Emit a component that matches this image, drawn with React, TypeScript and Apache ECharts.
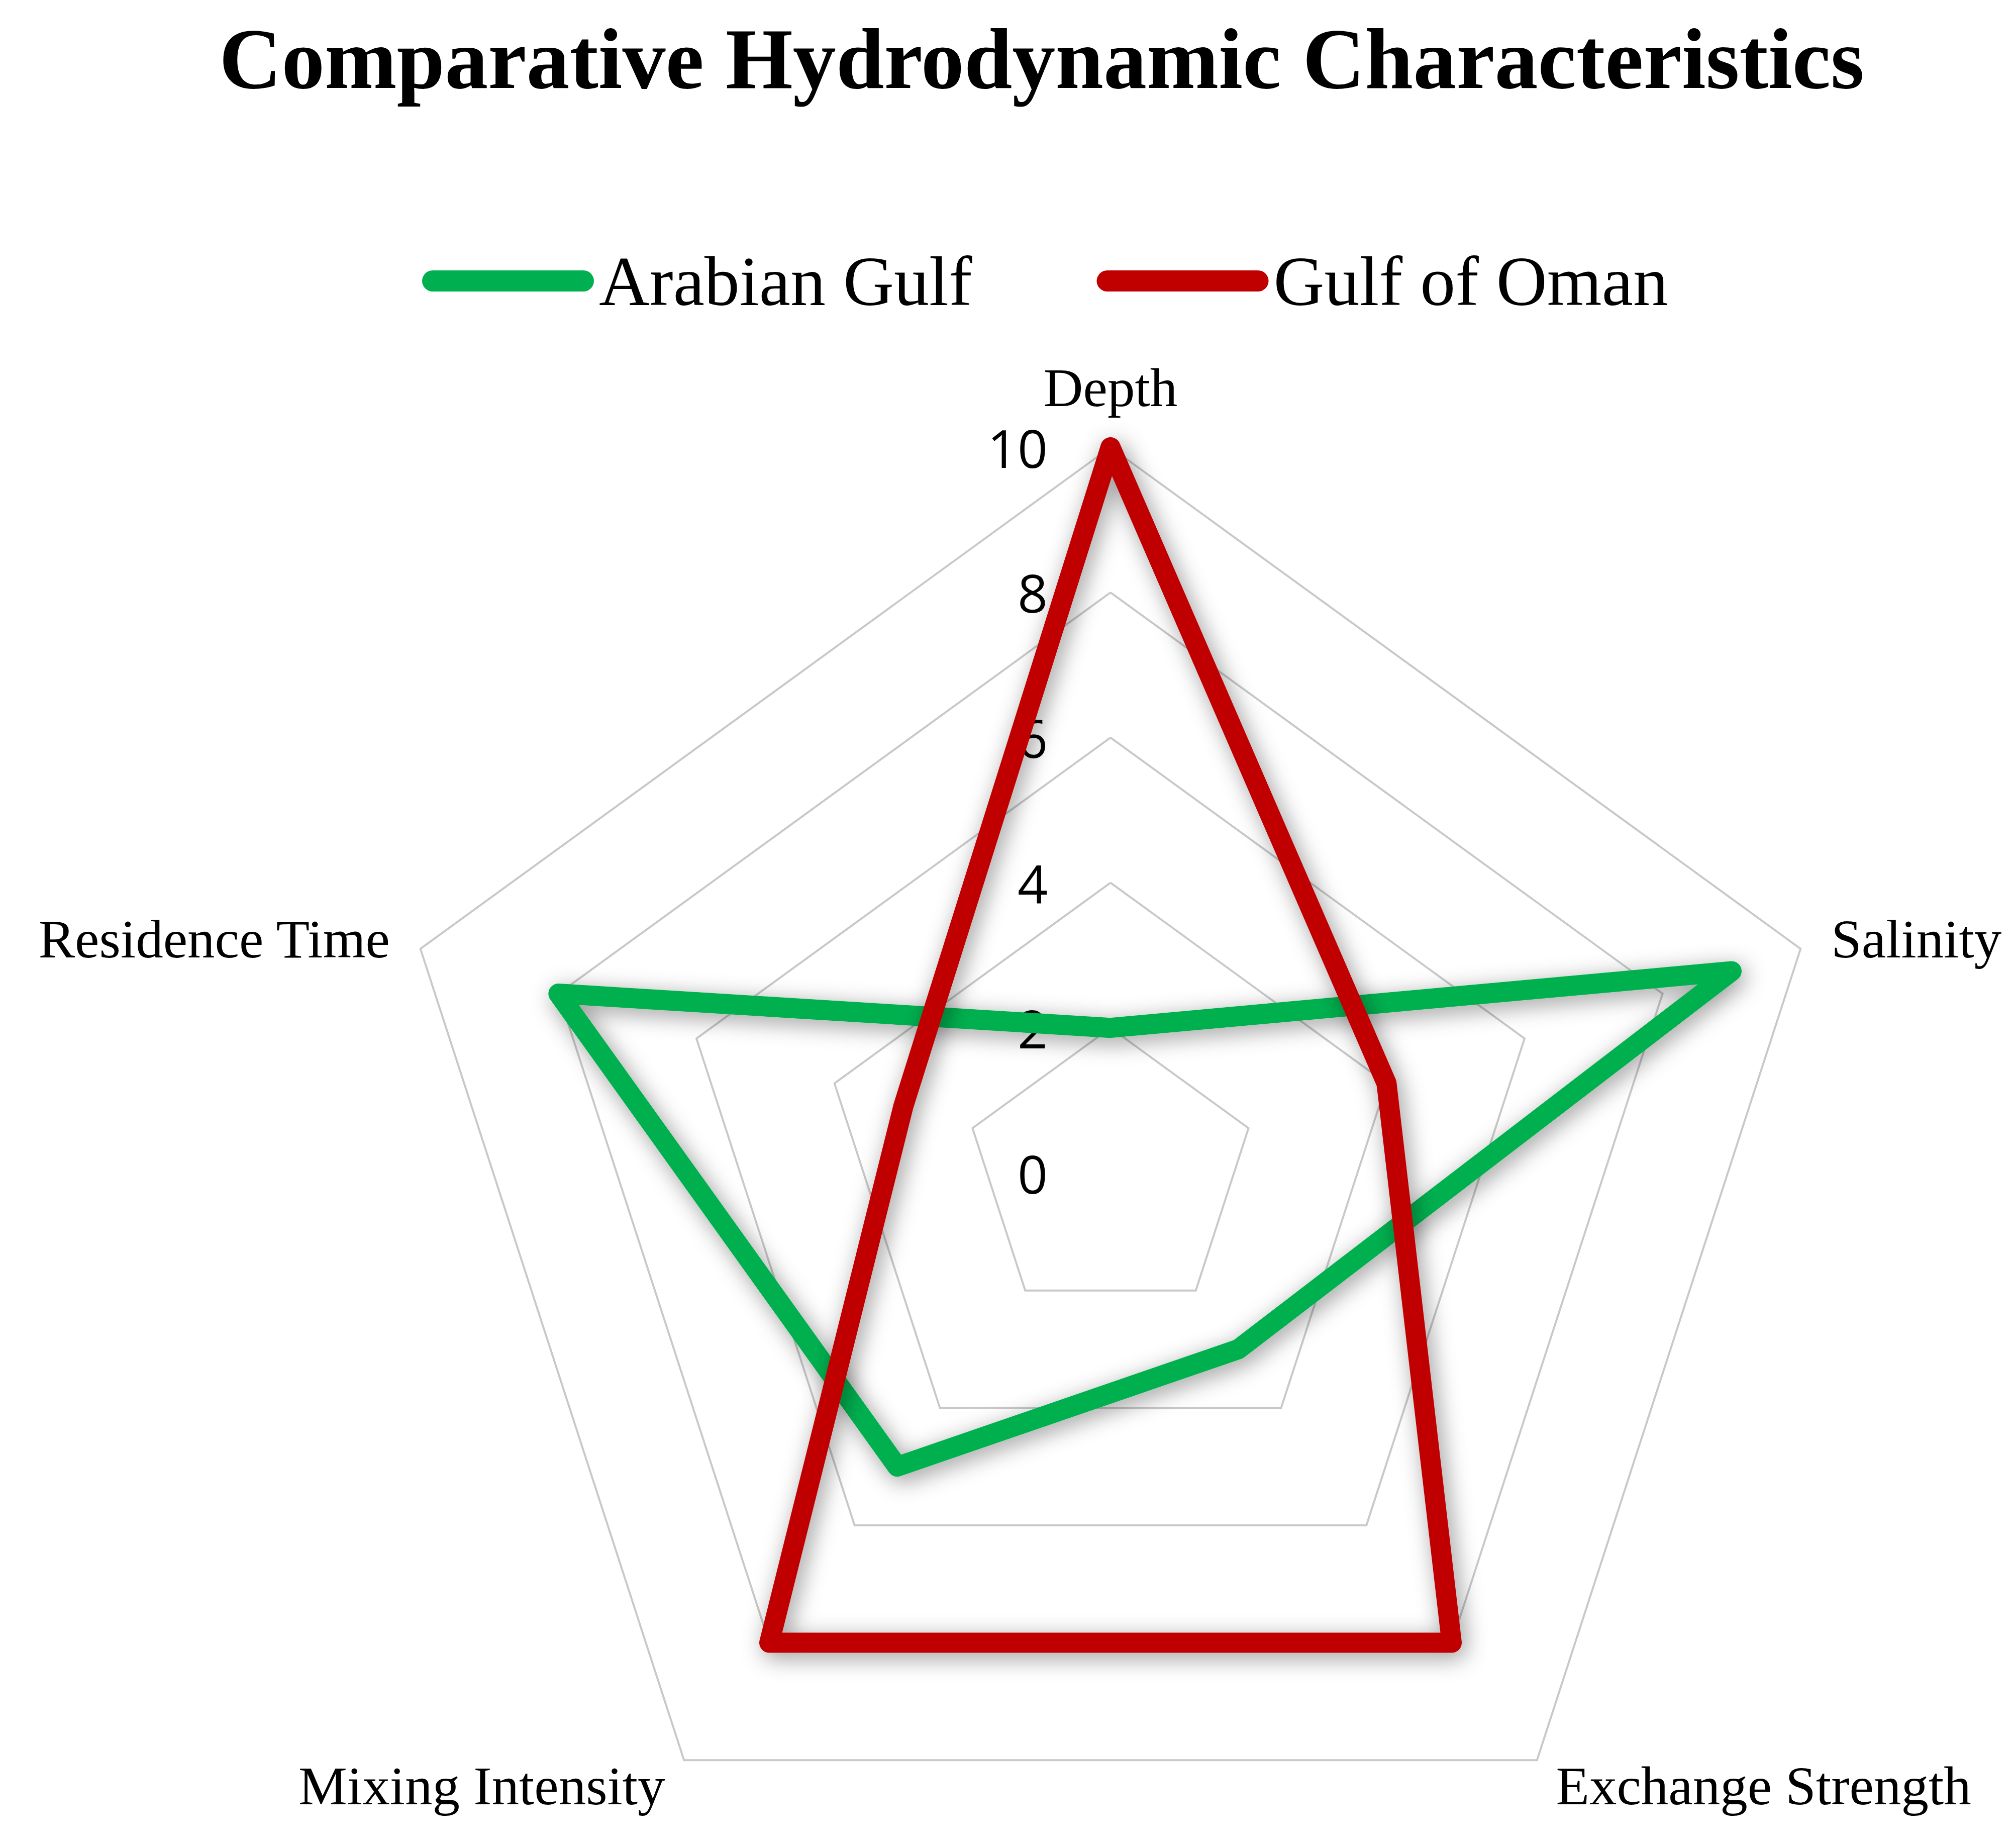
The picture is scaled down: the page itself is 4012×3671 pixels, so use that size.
import React, { useEffect, useRef } from "react";
import * as echarts from "echarts";

const titleText = "Comparative Hydrodynamic Characteristics";
const indicators = ["Depth", "Residence Time", "Mixing Intensity", "Exchange Strength", "Salinity"];
const maxValue = 10;
const seriesNames = ["Arabian Gulf", "Gulf of Oman"];
const arabianGulf = [2, 8, 5, 3, 9];
const gulfOfOman = [10, 3, 8, 8, 4];
const seriesColors = ["#00B050", "#C00000"];

export default function App() {
  const ref = useRef<HTMLDivElement>(null);
  useEffect(() => {
    document.body.style.margin = "0";
    const chart = echarts.init(ref.current!, null, { renderer: "svg" });
    const values = [arabianGulf, gulfOfOman];
    chart.setOption({
      animation: false,
      backgroundColor: "#ffffff",
      title: {
        text: titleText,
        left: 2068,
        textAlign: "center",
        top: 26,
        textStyle: {
          fontFamily: "Liberation Serif",
          fontWeight: "bold",
          fontSize: 172,
          color: "#000000",
        },
      },
      legend: {
        data: seriesNames,
        left: 835,
        top: 484,
        icon: "path://M21 0H321A21 21 0 0 1 321 42H21A21 21 0 0 1 21 0Z",
        itemWidth: 342,
        itemHeight: 42,
        itemGap: 248,
        itemStyle: { borderWidth: 0 },
        textStyle: {
          fontFamily: "Liberation Serif",
          fontSize: 140,
          lineHeight: 140,
          color: "#000000",
          padding: [0, 0, 0, 5],
        },
      },
      radar: {
        center: [2210, 2334],
        radius: 1444,
        startAngle: 90,
        splitNumber: 5,
        shape: "polygon",
        nameGap: 64,
        indicator: indicators.map((name, i) =>
          i === 0
            ? { name, min: 0, max: maxValue, axisLabel: { show: true } }
            : { name, min: 0, max: maxValue }
        ),
        axisName: {
          fontFamily: "Liberation Serif",
          fontSize: 109,
          color: "#000000",
        },
        splitLine: { lineStyle: { color: "#c9c9c9", width: 4 } },
        splitArea: { show: false },
        axisLine: { show: false },
        axisTick: { show: false },
        axisLabel: {
          show: false,
          fontFamily: "Open Sans",
          fontSize: 105,
          color: "#000000",
          margin: 125,
        },
      },
      series: [
        {
          type: "radar",
          symbol: "none",
          data: seriesNames.map((name, i) => ({
            name,
            value: values[i],
            itemStyle: { color: seriesColors[i] },
            lineStyle: {
              color: seriesColors[i],
              width: 40,
              join: "round",
              cap: "round",
              shadowBlur: 45,
              shadowColor: "rgba(0,0,0,0.4)",
              shadowOffsetX: 8,
              shadowOffsetY: 10,
            },
          })),
        },
      ],
    });
    return () => chart.dispose();
  }, []);
  return <div ref={ref} style={{ width: 4012, height: 3671 }} />;
}
